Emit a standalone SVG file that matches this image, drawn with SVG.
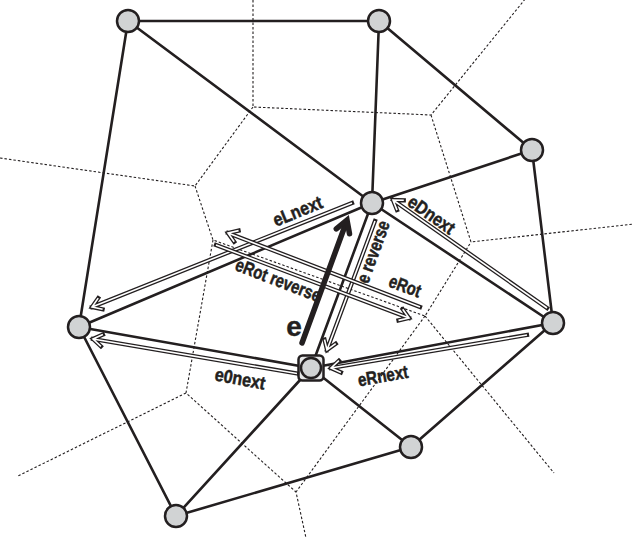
<svg xmlns="http://www.w3.org/2000/svg" xmlns:xlink="http://www.w3.org/1999/xlink" width="632" height="538" viewBox="0 0 632 538">
<style>
.vor{fill:none;stroke:#231f20;stroke-width:1.1;stroke-dasharray:2.5 2}
.edge{fill:none;stroke:#231f20;stroke-width:2.6;stroke-linecap:round}
.node{fill:#d1d3d4;stroke:#231f20;stroke-width:2.5}
.box{fill:#e6e7e8;stroke:#231f20;stroke-width:2.5}
.ao{fill:none;stroke:#231f20;stroke-width:4.2;stroke-linecap:square;stroke-linejoin:miter}
.ai{fill:none;stroke:#ffffff;stroke-width:1.6;stroke-linecap:butt;stroke-linejoin:miter}
.thick{fill:none;stroke:#231f20;stroke-width:5.5;stroke-linecap:round;stroke-linejoin:miter}
.lbl{font-family:"Liberation Sans Narrow","Liberation Sans",Arial,sans-serif;font-weight:bold;font-size:18.5px;fill:#231f20;stroke:#231f20;stroke-width:0.5;text-anchor:middle}
.big{font-family:"Liberation Sans","Arial",sans-serif;font-weight:bold;font-size:28px;fill:#231f20;stroke:#231f20;stroke-width:0.4;text-anchor:middle}
</style>
<defs>
<path id="pLnext" d="M352,203 L92,307 M98.2,298.1 L92,307 L102.6,309.3"/>
<path id="p0next" d="M297,373.5 L93,339 M102.9,334.6 L93,339 L100.9,346.4"/>
<path id="pRnext" d="M527,335 L331,368 M338.9,360.6 L331,368 L340.9,372.4"/>
<path id="pRev" d="M375,221 L327,350 M324.5,339.5 L327,350 L335.7,343.7"/>
<path id="pDnext" d="M547,308 L393,200 M403.8,200.3 L393,200 L397,210.1"/>
<path id="pRot" d="M420,307 L228,233 M238.6,230.6 L228,233 L234.2,241.8"/>
<path id="pRotRev" d="M216,245 L409,318 M398.5,320.4 L409,318 L402.7,309.2"/>
</defs>
<g id="voronoi">
<path class="vor" d="M253,0 L253,107 L431,115 L526,-2 M431,115 L471,242 L634,224 M253,107 L195,186 L0,158 M195,186 L213,240 L425,316 L471,242 M213,240 L186,393 L296,492 L306,538 M425,316 L554,473 M425,316 L296,492 M186,393 L18,476"/>
</g>
<g id="connectors">
<path class="edge" d="M128,21 L379,21 M128,21 L372,203 M128,21 L79,327 M379,21 L372,203 M379,21 L532,150 M532,150 L372,203 M532,150 L553,323 M372,203 L79,327 M372,203 L553,323 M372,203 L311,368 M79,327 L311,368 M79,327 L176,516 M311,368 L553,323 M311,368 L176,516 M311,368 L411,447 M411,447 L553,323 M176,516 L411,447"/>
</g>
<g id="nodes">
<g id="n1"><circle class="node" cx="128" cy="21" r="11"/></g>
<g id="n2"><circle class="node" cx="379" cy="21" r="11"/></g>
<g id="n3"><circle class="node" cx="532" cy="150" r="11"/></g>
<g id="n4"><circle class="node" cx="372" cy="203" r="11"/></g>
<g id="n5"><circle class="node" cx="79" cy="327" r="11"/></g>
<g id="n6"><circle class="node" cx="553" cy="323" r="11"/></g>
<g id="n7"><rect class="box" x="298.5" y="355.5" width="25" height="25" rx="4"/><circle class="node" cx="311" cy="368" r="10"/></g>
<g id="n8"><circle class="node" cx="411" cy="447" r="11"/></g>
<g id="n9"><circle class="node" cx="176" cy="516" r="11"/></g>
</g>
<g id="arrows">
<g id="a-eLnext"><use xlink:href="#pLnext" class="ao"/><use xlink:href="#pLnext" class="ai"/></g>
<g id="a-e0next"><use xlink:href="#p0next" class="ao"/><use xlink:href="#p0next" class="ai"/></g>
<g id="a-eRnext"><use xlink:href="#pRnext" class="ao"/><use xlink:href="#pRnext" class="ai"/></g>
<g id="a-erev"><use xlink:href="#pRev" class="ao"/><use xlink:href="#pRev" class="ai"/></g>
<g id="a-eDnext"><use xlink:href="#pDnext" class="ao"/><use xlink:href="#pDnext" class="ai"/></g>
<g id="a-eRot"><use xlink:href="#pRot" class="ao"/><use xlink:href="#pRot" class="ai"/></g>
<g id="a-eRotRev"><use xlink:href="#pRotRev" class="ao"/><use xlink:href="#pRotRev" class="ai"/></g>
<g id="a-e"><path class="thick" d="M302,343 L346,223"/><path class="thick" d="M336.3,228.9 L347,220 L349.5,233.7"/></g>
</g>
<g id="labels">
<text class="lbl" x="300" y="217" transform="rotate(-22 300 217)" textLength="52" lengthAdjust="spacingAndGlyphs">eLnext</text>
<text class="lbl" x="276" y="286" transform="rotate(21 276 286)" textLength="90" lengthAdjust="spacingAndGlyphs">eRot reverse</text>
<text class="lbl" x="403" y="292" transform="rotate(20 403 292)" textLength="33" lengthAdjust="spacingAndGlyphs">eRot</text>
<text class="lbl" x="379" y="254" transform="rotate(-70 379 254)" textLength="65" lengthAdjust="spacingAndGlyphs">e reverse</text>
<text class="lbl" x="428" y="220" transform="rotate(35 428 220)" textLength="53" lengthAdjust="spacingAndGlyphs">eDnext</text>
<text class="lbl" x="239" y="385" transform="rotate(10.5 239 385)" textLength="51" lengthAdjust="spacingAndGlyphs">e0next</text>
<text class="lbl" x="384" y="382" transform="rotate(-10 384 382)" textLength="51" lengthAdjust="spacingAndGlyphs">eRnext</text>
<text class="big" x="294" y="336">e</text>
</g>
</svg>
